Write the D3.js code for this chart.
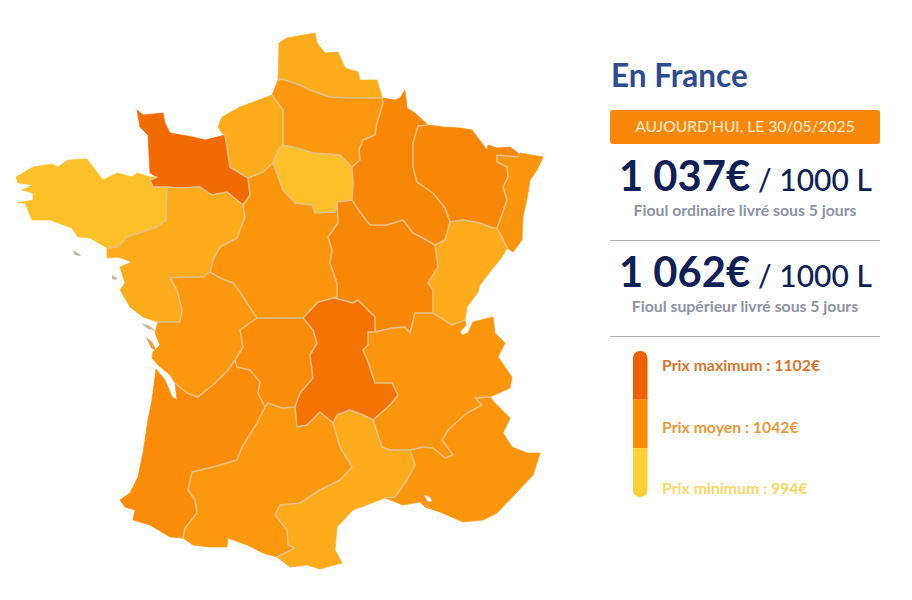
<!DOCTYPE html>
<html lang="fr"><head><meta charset="utf-8">
<script src="https://cdn.jsdelivr.net/npm/d3@7/dist/d3.min.js"></script>
<style>html,body{margin:0;background:#fff}svg{display:block}text{font-family:Lato,sans-serif}</style>
</head><body><svg id="c" width="912" height="600"></svg>
<script>
// Region outlines, in map units
const regionNames = ["Nord-Pas-de-Calais","Picardie","Haute-Normandie","Basse-Normandie","Bretagne","Pays de la Loire","Centre","Île-de-France","Champagne-Ardenne","Lorraine","Alsace","Franche-Comté","Bourgogne","Poitou-Charentes","Limousin","Auvergne","Rhône-Alpes","Aquitaine","Midi-Pyrénées","Languedoc-Roussillon","PACA"];
const regionPrices = [1017,1034,1017,1085,1000,1017,1036,1000,1052,1052,1037,1017,1052,1034,1046,1075,1037,1046,1034,1018,1037];
const nordOutline = [[278,80],[279,43],[287,38],[315,33],[317,43],[325,53],[338,52],[345,68],[358,72],[360,80],[377,80],[382,97],[380,98],[353,98],[330,97],[310,90],[300,85],[282,79]];
const picardieOutline = [[278,80],[282,79],[300,85],[310,90],[330,97],[353,98],[380,98],[382,98],[383,103],[377,123],[375,135],[363,140],[359,150],[360,160],[352,167],[340,155],[313,153],[297,148],[283,145],[283,110],[272,95],[275,88]];
const hauteNormandieOutline = [[272,95],[283,110],[283,145],[278,150],[273,163],[263,172],[248,178],[230,167],[225,135],[222,133],[218,127],[222,117],[240,107]];
const basseNormandieOutline = [[137,110],[143,115],[163,113],[165,123],[170,133],[193,137],[205,140],[225,135],[230,167],[248,178],[250,195],[243,205],[227,192],[212,195],[200,187],[180,188],[167,187],[153,187],[150,180],[157,177],[150,173],[148,135],[140,127]];
const bretagneOutline = [[16,177],[33,167],[52,164],[58,167],[68,160],[87,159],[103,180],[117,173],[132,177],[137,173],[150,177],[157,177],[150,180],[153,187],[167,187],[166,220],[157,227],[127,237],[118,247],[107,248],[90,238],[78,237],[72,228],[50,220],[32,220],[25,203],[17,203],[33,200],[33,193],[22,190],[33,185],[18,183]];
const paysLoireOutline = [[107,248],[118,247],[127,237],[157,227],[166,220],[167,187],[180,188],[200,187],[212,195],[227,192],[243,205],[245,217],[237,238],[220,247],[213,260],[210,272],[203,277],[180,277],[170,278],[177,290],[182,310],[180,322],[158,322],[143,317],[130,307],[120,290],[125,283],[120,267],[132,262],[118,257],[107,258]];
const centreOutline = [[243,205],[250,195],[248,178],[263,172],[273,163],[283,190],[295,203],[312,205],[315,213],[335,212],[337,202],[338,223],[328,237],[332,250],[330,263],[337,283],[337,297],[318,302],[303,318],[282,318],[257,318],[247,303],[240,292],[233,283],[220,278],[210,272],[213,260],[220,247],[237,238],[245,217]];
const ileFranceOutline = [[283,145],[297,148],[313,153],[340,155],[352,167],[353,183],[352,200],[337,202],[335,212],[315,213],[312,205],[295,203],[283,190],[273,163],[278,150]];
const champagneOutline = [[382,98],[395,100],[400,98],[405,90],[407,108],[415,113],[428,125],[418,126],[413,143],[413,167],[417,182],[433,193],[445,208],[450,222],[445,240],[435,245],[423,238],[413,233],[403,220],[387,225],[370,225],[360,212],[352,200],[353,183],[352,167],[360,160],[359,150],[363,140],[375,135],[377,123],[383,103]];
const lorraineOutline = [[428,125],[443,127],[460,128],[472,130],[487,150],[488,145],[497,148],[510,147],[518,153],[518,157],[497,155],[497,162],[507,167],[508,177],[503,187],[507,200],[497,228],[493,228],[480,223],[463,220],[450,222],[445,208],[433,193],[417,182],[413,167],[413,143],[418,126]];
const alsaceOutline = [[497,155],[518,157],[520,153],[543,157],[537,170],[530,180],[528,193],[523,217],[522,240],[513,252],[507,248],[502,237],[497,228],[507,200],[503,187],[508,177],[507,167],[497,162]];
const francheComteOutline = [[450,222],[463,220],[480,223],[493,228],[497,228],[502,237],[507,248],[502,257],[493,268],[480,285],[478,292],[467,307],[465,320],[452,325],[433,313],[433,290],[428,283],[438,267],[435,245],[445,240]];
const bourgogneOutline = [[337,202],[352,200],[360,212],[370,225],[387,225],[403,220],[413,233],[423,238],[435,245],[438,267],[428,283],[433,290],[433,313],[415,313],[410,333],[405,327],[392,328],[375,332],[375,317],[358,300],[353,303],[335,298],[337,297],[337,283],[330,263],[332,250],[328,237],[338,223]];
const poitouOutline = [[158,322],[180,322],[182,310],[177,290],[170,278],[180,277],[203,277],[210,272],[220,278],[233,283],[240,292],[247,303],[257,318],[240,330],[243,347],[235,360],[228,370],[215,383],[198,397],[187,393],[175,383],[170,375],[158,365],[152,358],[153,352],[160,345],[155,333]];
const limousinOutline = [[257,318],[282,318],[303,318],[313,330],[317,343],[310,355],[313,378],[300,393],[295,407],[282,408],[268,403],[265,407],[258,393],[260,382],[250,370],[237,367],[235,360],[243,347],[240,330]];
const auvergneOutline = [[303,318],[318,302],[337,297],[335,298],[353,303],[358,300],[375,317],[375,332],[368,332],[368,345],[363,350],[368,362],[375,383],[392,383],[398,395],[390,405],[373,420],[363,415],[350,410],[337,415],[333,423],[320,412],[307,425],[297,427],[295,407],[300,393],[313,378],[310,355],[317,343],[313,330]];
const rhoneAlpesOutline = [[375,332],[392,328],[405,327],[410,333],[415,313],[433,313],[452,325],[465,320],[466,325],[460,332],[462,335],[468,333],[473,322],[493,317],[495,333],[505,343],[498,357],[512,377],[510,388],[490,397],[475,398],[482,405],[467,413],[448,430],[442,440],[453,455],[445,458],[433,448],[423,447],[410,450],[390,450],[382,447],[373,420],[390,405],[398,395],[392,383],[375,383],[368,362],[363,350],[368,345],[368,332]];
const aquitaineOutline = [[175,383],[177,400],[172,397],[165,380],[156,369],[152,400],[148,420],[143,453],[138,477],[130,493],[120,500],[125,507],[135,510],[133,520],[150,525],[170,537],[183,538],[185,528],[197,513],[195,500],[188,490],[192,472],[213,467],[237,460],[242,447],[257,423],[265,407],[258,393],[260,382],[250,370],[237,367],[235,360],[228,370],[215,383],[198,397],[187,393]];
const midiOutline = [[183,538],[185,528],[197,513],[195,500],[188,490],[192,472],[213,467],[237,460],[242,447],[257,423],[265,407],[268,403],[282,408],[295,407],[297,427],[307,425],[320,412],[333,423],[340,447],[352,467],[340,480],[320,490],[300,503],[280,505],[275,515],[287,530],[288,545],[295,548],[277,557],[263,553],[247,545],[228,538],[227,547],[210,547],[193,545]];
const languedocOutline = [[373,420],[363,415],[350,410],[337,415],[333,423],[340,447],[352,467],[340,480],[320,490],[300,503],[280,505],[275,515],[287,530],[288,545],[295,548],[277,557],[290,567],[307,565],[320,569],[342,563],[335,550],[337,527],[353,510],[385,498],[395,497],[407,480],[415,465],[410,450],[390,450],[382,447]];
const pacaOutline = [[410,450],[423,447],[433,448],[445,458],[453,455],[442,440],[448,430],[467,413],[482,405],[475,398],[490,397],[495,403],[510,418],[503,433],[512,447],[527,453],[540,453],[533,475],[517,492],[497,513],[483,520],[463,522],[440,512],[425,507],[420,502],[403,505],[385,498],[395,497],[407,480],[415,465]];
const regionOutlines = [nordOutline,picardieOutline,hauteNormandieOutline,basseNormandieOutline,bretagneOutline,paysLoireOutline,centreOutline,ileFranceOutline,champagneOutline,lorraineOutline,alsaceOutline,francheComteOutline,bourgogneOutline,poitouOutline,limousinOutline,auvergneOutline,rhoneAlpesOutline,aquitaineOutline,midiOutline,languedocOutline,pacaOutline];
const islandOutlines = [[[141,323],[150,326],[156,331],[148,329]],[[146,337],[152,342],[157,351],[151,348]],[[73,250],[79,254],[81,256],[75,255]],[[112,275],[117,278],[116,280],[112,279]]];
const islandColors = ["#c9b79c","#f09a3a","#b9b08f","#c9b79c"];
const berreOutline = [[424,495],[430,497],[432,501],[428,502]];

const headline = "En France";
const dateLabel = "AUJOURD'HUI, LE 30/05/2025";
const prices = ["1 037€","1 062€"];
const priceUnit = "/ 1000 L";
const priceNotes = ["Fioul ordinaire livré sous 5 jours","Fioul supérieur livré sous 5 jours"];
const legendLabels = ["Prix maximum : 1102€","Prix moyen : 1042€","Prix minimum : 994€"];
const legendBarColors = ["#ee6000","#fb8b00","#ffd034"];
const legendTextColors = ["#d9742a","#e9993a","#f6d765"];

const svg = d3.select("#c");
const color = d3.scaleLinear().domain([994,1042,1102]).range(["#fdc72d","#fb8f07","#ee5c00"]);
const path = d3.geoPath(d3.geoIdentity());
const feature = coords => ({type:"Feature",geometry:{type:"Polygon",coordinates:[[...coords,coords[0]]]}});

// borders: only edges that two regions share get the beige line
const edgeCount = new Map();
regionOutlines.forEach(poly => poly.forEach((p,i) => {
  const q = poly[(i+1)%poly.length];
  const key = [p,q].map(String).sort().join("|");
  edgeCount.set(key,{n:(edgeCount.get(key)?.n||0)+1,seg:[p,q]});
}));
const borders = {type:"MultiLineString",coordinates:[...edgeCount.values()].filter(e=>e.n>1).map(e=>e.seg)};

const map = svg.append("g").attr("stroke-linejoin","round");
map.selectAll("path.island").data(islandOutlines).join("path").attr("class","island")
  .attr("d",d=>path(feature(d))).attr("fill",(d,i)=>islandColors[i]);
map.selectAll("path.region").data(regionOutlines).join("path").attr("class","region")
  .attr("d",d=>path(feature(d))).attr("fill",(d,i)=>color(regionPrices[i])).attr("stroke",(d,i)=>color(regionPrices[i])).attr("stroke-width",.7)
  .append("title").text((d,i)=>regionNames[i]);
map.append("path").attr("d",path(borders)).attr("fill","none").attr("stroke","#e2c28c").attr("stroke-width",1.5).attr("stroke-linecap","round");
svg.append("path").attr("d",path(feature(berreOutline))).attr("fill","#fff").attr("stroke","#dcbd8a").attr("stroke-width",.6);

// right panel
svg.append("text").attr("x",611).attr("y",87).attr("font-size",31.5).attr("font-weight",700).attr("fill","#2d4b90").text(headline);
svg.append("rect").attr("x",610).attr("y",110).attr("width",270).attr("height",34).attr("rx",3).attr("fill","#f98808");
svg.append("text").attr("x",745).attr("y",132).attr("text-anchor","middle").attr("font-size",15.6).attr("fill","#fdeed6").text(dateLabel);

const rowY = d3.scaleBand().domain([0,1]).range([144,336]);
const rows = svg.selectAll("g.row").data(prices).join("g").attr("class","row").attr("transform",(d,i)=>`translate(0,${rowY(i)})`);
const big = rows.append("text").attr("x",745.5).attr("y",47).attr("text-anchor","middle").attr("fill","#0f2056");
big.append("tspan").attr("font-size",41.7).attr("font-weight",700).text(d=>d);
big.append("tspan").attr("font-size",30).attr("font-weight",500).attr("dx",8).text(priceUnit);
rows.append("text").attr("x",745).attr("y",72).attr("text-anchor","middle").attr("font-size",15.8).attr("font-weight",700).attr("fill","#8d93a2").text((d,i)=>priceNotes[i]);
svg.selectAll("line.sep").data([0,1]).join("line").attr("class","sep").attr("x1",610).attr("x2",880)
  .attr("y1",i=>rowY(i)+rowY.bandwidth()+.5).attr("y2",i=>rowY(i)+rowY.bandwidth()+.5).attr("stroke","#b0b0b0").attr("stroke-width",1);

// legend
const legendY = d3.scaleBand().domain(d3.range(legendLabels.length)).range([351,497]);
svg.append("clipPath").attr("id","bar").append("rect").attr("x",633).attr("y",351).attr("width",14.5).attr("height",146).attr("rx",7);
svg.append("g").attr("clip-path","url(#bar)").selectAll("rect").data(legendBarColors).join("rect")
  .attr("x",633).attr("width",15).attr("y",(d,i)=>legendY(i)).attr("height",legendY.bandwidth()).attr("fill",d=>d);
const labelY = d3.scalePoint().domain(d3.range(legendLabels.length)).range([371,494]);
svg.selectAll("text.leg").data(legendLabels).join("text").attr("class","leg").attr("x",662).attr("y",(d,i)=>labelY(i))
  .attr("font-size",15.8).attr("font-weight",700).attr("fill",(d,i)=>legendTextColors[i]).text(d=>d);
</script></body></html>
